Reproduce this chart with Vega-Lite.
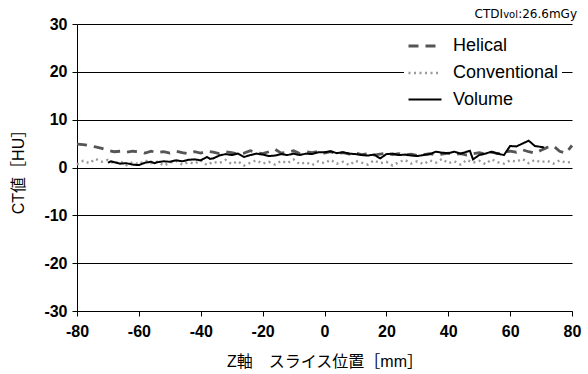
{
  "$schema": "https://vega.github.io/schema/vega-lite/v6.json",
  "width": 495,
  "height": 287,
  "autosize": {"type": "none"},
  "padding": {"left": 77, "top": 24, "right": 16, "bottom": 63},
  "background": "white",
  "config": {
    "view": {"stroke": null},
    "font": "Liberation Sans, Noto Sans CJK JP",
    "axis": {
      "domainColor": "#000",
      "domainWidth": 1,
      "tickColor": "#000",
      "tickSize": 5,
      "labelFont": "Liberation Sans",
      "labelFontSize": 16,
      "labelFontWeight": "bold",
      "labelColor": "#000",
      "labelFlush": false,
      "labelExpr": "'' + datum.value",
      "titleFont": "Liberation Sans, Noto Sans CJK JP",
      "titleFontSize": 16,
      "titleFontWeight": "normal",
      "titleColor": "#000"
    },
    "legend": {
      "labelFont": "Liberation Sans",
      "labelFontSize": 18,
      "labelColor": "#000",
      "symbolType": "stroke",
      "symbolSize": 1089,
      "symbolStrokeWidth": 3,
      "labelOffset": 10,
      "rowPadding": -7,
      "padding": 3,
      "fillColor": "white"
    }
  },
  "datasets": {
    "profile": [
      {"series": "Helical", "z": -80, "ct": 4.9}, {"series": "Helical", "z": -78, "ct": 4.8}, {"series": "Helical", "z": -76, "ct": 4.6}, {"series": "Helical", "z": -74, "ct": 4.3}, {"series": "Helical", "z": -72, "ct": 4.0}, {"series": "Helical", "z": -70, "ct": 3.6}, {"series": "Helical", "z": -68, "ct": 3.3}, {"series": "Helical", "z": -66, "ct": 3.4}, {"series": "Helical", "z": -64, "ct": 3.2}, {"series": "Helical", "z": -62, "ct": 3.4}, {"series": "Helical", "z": -60, "ct": 3.3}, {"series": "Helical", "z": -58, "ct": 3.0}, {"series": "Helical", "z": -56, "ct": 3.4}, {"series": "Helical", "z": -54, "ct": 3.1}, {"series": "Helical", "z": -52, "ct": 3.3}, {"series": "Helical", "z": -50, "ct": 3.0}, {"series": "Helical", "z": -48, "ct": 3.4}, {"series": "Helical", "z": -46, "ct": 3.1}, {"series": "Helical", "z": -44, "ct": 2.9}, {"series": "Helical", "z": -42, "ct": 3.3}, {"series": "Helical", "z": -40, "ct": 3.0}, {"series": "Helical", "z": -38, "ct": 3.4}, {"series": "Helical", "z": -36, "ct": 3.2}, {"series": "Helical", "z": -34, "ct": 2.9}, {"series": "Helical", "z": -32, "ct": 3.3}, {"series": "Helical", "z": -30, "ct": 3.1}, {"series": "Helical", "z": -28, "ct": 2.8}, {"series": "Helical", "z": -26, "ct": 3.0}, {"series": "Helical", "z": -24, "ct": 3.5}, {"series": "Helical", "z": -22, "ct": 3.1}, {"series": "Helical", "z": -20, "ct": 2.9}, {"series": "Helical", "z": -18, "ct": 3.3}, {"series": "Helical", "z": -16, "ct": 3.8}, {"series": "Helical", "z": -14, "ct": 3.0}, {"series": "Helical", "z": -12, "ct": 3.2}, {"series": "Helical", "z": -10, "ct": 3.5}, {"series": "Helical", "z": -8, "ct": 2.9}, {"series": "Helical", "z": -6, "ct": 3.3}, {"series": "Helical", "z": -4, "ct": 3.1}, {"series": "Helical", "z": -2, "ct": 3.4}, {"series": "Helical", "z": 0, "ct": 3.0}, {"series": "Helical", "z": 2, "ct": 3.3}, {"series": "Helical", "z": 4, "ct": 2.9}, {"series": "Helical", "z": 6, "ct": 3.1}, {"series": "Helical", "z": 8, "ct": 2.8}, {"series": "Helical", "z": 10, "ct": 3.0}, {"series": "Helical", "z": 12, "ct": 2.7}, {"series": "Helical", "z": 14, "ct": 2.9}, {"series": "Helical", "z": 16, "ct": 2.6}, {"series": "Helical", "z": 18, "ct": 2.8}, {"series": "Helical", "z": 20, "ct": 3.0}, {"series": "Helical", "z": 22, "ct": 2.7}, {"series": "Helical", "z": 24, "ct": 2.9}, {"series": "Helical", "z": 26, "ct": 2.6}, {"series": "Helical", "z": 28, "ct": 2.8}, {"series": "Helical", "z": 30, "ct": 2.5}, {"series": "Helical", "z": 32, "ct": 2.7}, {"series": "Helical", "z": 34, "ct": 2.9}, {"series": "Helical", "z": 36, "ct": 2.6}, {"series": "Helical", "z": 38, "ct": 2.8}, {"series": "Helical", "z": 40, "ct": 3.0}, {"series": "Helical", "z": 42, "ct": 2.7}, {"series": "Helical", "z": 44, "ct": 2.9}, {"series": "Helical", "z": 46, "ct": 2.6}, {"series": "Helical", "z": 48, "ct": 2.9}, {"series": "Helical", "z": 50, "ct": 3.1}, {"series": "Helical", "z": 52, "ct": 2.8}, {"series": "Helical", "z": 54, "ct": 3.2}, {"series": "Helical", "z": 56, "ct": 2.9}, {"series": "Helical", "z": 58, "ct": 3.3}, {"series": "Helical", "z": 60, "ct": 3.4}, {"series": "Helical", "z": 62, "ct": 3.2}, {"series": "Helical", "z": 64, "ct": 3.7}, {"series": "Helical", "z": 66, "ct": 3.3}, {"series": "Helical", "z": 68, "ct": 3.0}, {"series": "Helical", "z": 70, "ct": 3.6}, {"series": "Helical", "z": 72, "ct": 4.2}, {"series": "Helical", "z": 74, "ct": 4.5}, {"series": "Helical", "z": 76, "ct": 3.4}, {"series": "Helical", "z": 78, "ct": 3.0}, {"series": "Helical", "z": 80, "ct": 4.6},

      {"series": "Conventional", "z": -80, "ct": 0.6}, {"series": "Conventional", "z": -78, "ct": 1.4}, {"series": "Conventional", "z": -76, "ct": 0.9}, {"series": "Conventional", "z": -74, "ct": 1.8}, {"series": "Conventional", "z": -72, "ct": 1.2}, {"series": "Conventional", "z": -70, "ct": 1.6}, {"series": "Conventional", "z": -68, "ct": 0.8}, {"series": "Conventional", "z": -66, "ct": 1.3}, {"series": "Conventional", "z": -64, "ct": 0.5}, {"series": "Conventional", "z": -62, "ct": 1.1}, {"series": "Conventional", "z": -60, "ct": 0.7}, {"series": "Conventional", "z": -58, "ct": 1.5}, {"series": "Conventional", "z": -56, "ct": 0.9}, {"series": "Conventional", "z": -54, "ct": 1.2}, {"series": "Conventional", "z": -52, "ct": 0.4}, {"series": "Conventional", "z": -50, "ct": 1.0}, {"series": "Conventional", "z": -48, "ct": 1.4}, {"series": "Conventional", "z": -46, "ct": 0.6}, {"series": "Conventional", "z": -44, "ct": 1.1}, {"series": "Conventional", "z": -42, "ct": 0.8}, {"series": "Conventional", "z": -40, "ct": 1.5}, {"series": "Conventional", "z": -38, "ct": 0.5}, {"series": "Conventional", "z": -36, "ct": 1.2}, {"series": "Conventional", "z": -34, "ct": 0.9}, {"series": "Conventional", "z": -32, "ct": 1.6}, {"series": "Conventional", "z": -30, "ct": 0.7}, {"series": "Conventional", "z": -28, "ct": 1.3}, {"series": "Conventional", "z": -26, "ct": 0.4}, {"series": "Conventional", "z": -24, "ct": 1.0}, {"series": "Conventional", "z": -22, "ct": 1.5}, {"series": "Conventional", "z": -20, "ct": 0.8}, {"series": "Conventional", "z": -18, "ct": 1.2}, {"series": "Conventional", "z": -16, "ct": 0.6}, {"series": "Conventional", "z": -14, "ct": 1.4}, {"series": "Conventional", "z": -12, "ct": 0.9}, {"series": "Conventional", "z": -10, "ct": 1.7}, {"series": "Conventional", "z": -8, "ct": 0.7}, {"series": "Conventional", "z": -6, "ct": 1.1}, {"series": "Conventional", "z": -4, "ct": 0.5}, {"series": "Conventional", "z": -2, "ct": 1.3}, {"series": "Conventional", "z": 0, "ct": 0.9}, {"series": "Conventional", "z": 2, "ct": 1.6}, {"series": "Conventional", "z": 4, "ct": 0.8}, {"series": "Conventional", "z": 6, "ct": 1.2}, {"series": "Conventional", "z": 8, "ct": 0.5}, {"series": "Conventional", "z": 10, "ct": 1.4}, {"series": "Conventional", "z": 12, "ct": 1.0}, {"series": "Conventional", "z": 14, "ct": 0.6}, {"series": "Conventional", "z": 16, "ct": 1.5}, {"series": "Conventional", "z": 18, "ct": 0.9}, {"series": "Conventional", "z": 20, "ct": 1.2}, {"series": "Conventional", "z": 22, "ct": 0.4}, {"series": "Conventional", "z": 24, "ct": 1.1}, {"series": "Conventional", "z": 26, "ct": 1.6}, {"series": "Conventional", "z": 28, "ct": 0.8}, {"series": "Conventional", "z": 30, "ct": 1.3}, {"series": "Conventional", "z": 32, "ct": 0.7}, {"series": "Conventional", "z": 34, "ct": 1.5}, {"series": "Conventional", "z": 36, "ct": 1.0}, {"series": "Conventional", "z": 38, "ct": 1.8}, {"series": "Conventional", "z": 40, "ct": 0.9}, {"series": "Conventional", "z": 42, "ct": 1.3}, {"series": "Conventional", "z": 44, "ct": 0.6}, {"series": "Conventional", "z": 46, "ct": 1.6}, {"series": "Conventional", "z": 48, "ct": 1.0}, {"series": "Conventional", "z": 50, "ct": 1.4}, {"series": "Conventional", "z": 52, "ct": 0.7}, {"series": "Conventional", "z": 54, "ct": 1.7}, {"series": "Conventional", "z": 56, "ct": 1.1}, {"series": "Conventional", "z": 58, "ct": 0.8}, {"series": "Conventional", "z": 60, "ct": 1.5}, {"series": "Conventional", "z": 62, "ct": 1.2}, {"series": "Conventional", "z": 64, "ct": 1.8}, {"series": "Conventional", "z": 66, "ct": 0.9}, {"series": "Conventional", "z": 68, "ct": 1.6}, {"series": "Conventional", "z": 70, "ct": 1.1}, {"series": "Conventional", "z": 72, "ct": 1.4}, {"series": "Conventional", "z": 74, "ct": 0.8}, {"series": "Conventional", "z": 76, "ct": 1.5}, {"series": "Conventional", "z": 78, "ct": 1.0}, {"series": "Conventional", "z": 80, "ct": 1.2},

      {"series": "Volume", "z": -70, "ct": 1.0}, {"series": "Volume", "z": -69, "ct": 1.3}, {"series": "Volume", "z": -68, "ct": 1.1}, {"series": "Volume", "z": -66, "ct": 0.8}, {"series": "Volume", "z": -64, "ct": 0.9}, {"series": "Volume", "z": -62, "ct": 0.6}, {"series": "Volume", "z": -60, "ct": 0.5}, {"series": "Volume", "z": -58, "ct": 1.0}, {"series": "Volume", "z": -56, "ct": 1.2}, {"series": "Volume", "z": -55, "ct": 0.9}, {"series": "Volume", "z": -54, "ct": 1.1}, {"series": "Volume", "z": -52, "ct": 1.3}, {"series": "Volume", "z": -50, "ct": 1.2}, {"series": "Volume", "z": -48, "ct": 1.5}, {"series": "Volume", "z": -46, "ct": 1.3}, {"series": "Volume", "z": -44, "ct": 1.6}, {"series": "Volume", "z": -42, "ct": 1.7}, {"series": "Volume", "z": -40, "ct": 1.5}, {"series": "Volume", "z": -38, "ct": 2.2}, {"series": "Volume", "z": -37, "ct": 1.8}, {"series": "Volume", "z": -36, "ct": 1.9}, {"series": "Volume", "z": -34, "ct": 2.5}, {"series": "Volume", "z": -32, "ct": 2.8}, {"series": "Volume", "z": -30, "ct": 2.6}, {"series": "Volume", "z": -28, "ct": 2.9}, {"series": "Volume", "z": -26, "ct": 2.2}, {"series": "Volume", "z": -24, "ct": 2.6}, {"series": "Volume", "z": -22, "ct": 2.9}, {"series": "Volume", "z": -20, "ct": 2.7}, {"series": "Volume", "z": -18, "ct": 2.4}, {"series": "Volume", "z": -16, "ct": 2.5}, {"series": "Volume", "z": -14, "ct": 2.8}, {"series": "Volume", "z": -12, "ct": 2.6}, {"series": "Volume", "z": -10, "ct": 2.9}, {"series": "Volume", "z": -8, "ct": 2.6}, {"series": "Volume", "z": -6, "ct": 2.9}, {"series": "Volume", "z": -4, "ct": 2.8}, {"series": "Volume", "z": -2, "ct": 3.2}, {"series": "Volume", "z": 0, "ct": 3.2}, {"series": "Volume", "z": 2, "ct": 3.4}, {"series": "Volume", "z": 4, "ct": 3.0}, {"series": "Volume", "z": 6, "ct": 3.2}, {"series": "Volume", "z": 8, "ct": 2.9}, {"series": "Volume", "z": 10, "ct": 2.8}, {"series": "Volume", "z": 12, "ct": 2.6}, {"series": "Volume", "z": 14, "ct": 2.5}, {"series": "Volume", "z": 16, "ct": 2.7}, {"series": "Volume", "z": 18, "ct": 1.9}, {"series": "Volume", "z": 20, "ct": 2.8}, {"series": "Volume", "z": 22, "ct": 2.9}, {"series": "Volume", "z": 24, "ct": 2.6}, {"series": "Volume", "z": 26, "ct": 2.7}, {"series": "Volume", "z": 28, "ct": 2.5}, {"series": "Volume", "z": 30, "ct": 2.4}, {"series": "Volume", "z": 32, "ct": 2.6}, {"series": "Volume", "z": 34, "ct": 2.8}, {"series": "Volume", "z": 36, "ct": 3.3}, {"series": "Volume", "z": 38, "ct": 3.1}, {"series": "Volume", "z": 40, "ct": 3.0}, {"series": "Volume", "z": 42, "ct": 3.3}, {"series": "Volume", "z": 44, "ct": 2.9}, {"series": "Volume", "z": 46, "ct": 3.3}, {"series": "Volume", "z": 47, "ct": 3.5}, {"series": "Volume", "z": 48, "ct": 1.7}, {"series": "Volume", "z": 50, "ct": 2.6}, {"series": "Volume", "z": 52, "ct": 2.9}, {"series": "Volume", "z": 54, "ct": 3.3}, {"series": "Volume", "z": 56, "ct": 2.9}, {"series": "Volume", "z": 58, "ct": 2.6}, {"series": "Volume", "z": 60, "ct": 4.5}, {"series": "Volume", "z": 62, "ct": 4.4}, {"series": "Volume", "z": 64, "ct": 5.0}, {"series": "Volume", "z": 66, "ct": 5.6}, {"series": "Volume", "z": 68, "ct": 4.5}, {"series": "Volume", "z": 70, "ct": 4.3}, {"series": "Volume", "z": 71, "ct": 4.2}
    ]
  },
  "layer": [
    {
      "data": {"name": "profile"},
      "mark": {"type": "line", "interpolate": "linear"},
      "encoding": {
        "x": {
          "field": "z",
          "type": "quantitative",
          "scale": {"domain": [-80, 80], "nice": false},
          "axis": {
            "title": "Z軸　スライス位置［mm］",
            "values": [-80, -60, -40, -20, 0, 20, 40, 60, 80],
            "grid": false,
            "labelPadding": 7,
            "titlePadding": 14
          }
        },
        "y": {
          "field": "ct",
          "type": "quantitative",
          "scale": {"domain": [-30, 30], "nice": false, "zero": false},
          "axis": {
            "title": "CT値［HU］",
            "values": [-30, -20, -10, 0, 10, 20, 30],
            "grid": true,
            "gridColor": "#000",
            "gridWidth": 1,
            "gridOpacity": 1,
            "labelPadding": 5,
            "titlePadding": 17
          }
        },
        "color": {
          "field": "series",
          "type": "nominal",
          "sort": ["Helical", "Conventional", "Volume"],
          "scale": {"domain": ["Helical", "Conventional", "Volume"], "range": ["#555555", "#9a9a9a", "#000000"]},
          "legend": {"title": null, "orient": "none", "legendX": 327, "legendY": 1}
        },
        "strokeDash": {
          "field": "series",
          "type": "nominal",
          "sort": ["Helical", "Conventional", "Volume"],
          "scale": {"domain": ["Helical", "Conventional", "Volume"], "range": [[10, 7], [2, 3.5], [1, 0]]},
          "legend": {"title": null, "orient": "none", "legendX": 327, "legendY": 1}
        },
        "strokeWidth": {
          "field": "series",
          "type": "nominal",
          "scale": {"domain": ["Helical", "Conventional", "Volume"], "range": [2.8, 2, 2.4]},
          "legend": null
        }
      }
    },
    {
      "data": {"values": [{"label": ":26.6mGy"}]},
      "mark": {"type": "text", "align": "right", "baseline": "alphabetic", "font": "DejaVu Sans", "fontSize": 12, "dx": 5, "dy": -6, "color": "#000"},
      "encoding": {"x": {"datum": 80}, "y": {"datum": 30}, "text": {"field": "label"}}
    },
    {
      "data": {"values": [{"label": "vol"}]},
      "mark": {"type": "text", "align": "right", "baseline": "alphabetic", "font": "DejaVu Sans", "fontSize": 10, "dx": -54, "dy": -6, "color": "#000"},
      "encoding": {"x": {"datum": 80}, "y": {"datum": 30}, "text": {"field": "label"}}
    },
    {
      "data": {"values": [{"label": "CTDI"}]},
      "mark": {"type": "text", "align": "right", "baseline": "alphabetic", "font": "DejaVu Sans", "fontSize": 12, "dx": -69, "dy": -6, "color": "#000"},
      "encoding": {"x": {"datum": 80}, "y": {"datum": 30}, "text": {"field": "label"}}
    }
  ]
}
